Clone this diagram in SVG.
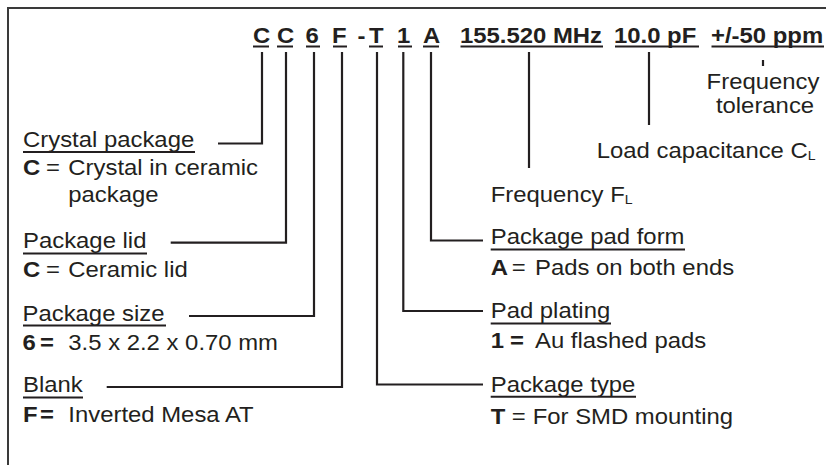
<svg xmlns="http://www.w3.org/2000/svg" width="826" height="465" viewBox="0 0 826 465">
<style>
text{font-family:"Liberation Sans",Arial,sans-serif;font-size:22px;fill:#231f20}
.b{font-weight:bold}
.s{font-size:13px}
.ln{fill:none;stroke:#231f20;stroke-width:2.2}
.ul{stroke:#231f20;stroke-width:2}
.fr{fill:none;stroke:#3a3a3a;stroke-width:2}
</style>
<rect width="826" height="465" fill="#fff"/>
<path class="fr" d="M8,465 V8 H826"/>
<g id="code">
<text class="b" transform="translate(253,42.5) scale(1.086,1)">C</text>
<text class="b" transform="translate(277,42.5) scale(1.086,1)">C</text>
<text class="b" transform="translate(305.5,42.5) scale(1.086,1)">6</text>
<text class="b" transform="translate(332,42.5) scale(1.086,1)">F</text>
<text class="b" transform="translate(357.5,42.5) scale(1.086,1)">-</text>
<text class="b" transform="translate(369,42.5) scale(1.086,1)">T</text>
<text class="b" transform="translate(397,42.5) scale(1.086,1)">1</text>
<text class="b" transform="translate(423,42.5) scale(1.086,1)">A</text>
<text class="b" transform="translate(460,42.5) scale(1.086,1)">155.520 MHz</text>
<text class="b" transform="translate(614,42.5) scale(1.086,1)">10.0 pF</text>
<text class="b" transform="translate(711,42.5) scale(1.086,1)">+/-50 ppm</text>
<g class="ul">
<line x1="253" y1="46.5" x2="269" y2="46.5"/>
<line x1="277" y1="46.5" x2="293" y2="46.5"/>
<line x1="306" y1="46.5" x2="320" y2="46.5"/>
<line x1="333" y1="46.5" x2="347" y2="46.5"/>
<line x1="369" y1="46.5" x2="383" y2="46.5"/>
<line x1="398" y1="46.5" x2="412" y2="46.5"/>
<line x1="423" y1="46.5" x2="439" y2="46.5"/>
<line x1="460.5" y1="46.5" x2="603" y2="46.5"/>
<line x1="615" y1="46.5" x2="699" y2="46.5"/>
<line x1="711.5" y1="46.5" x2="824" y2="46.5"/>
</g>
</g>
<g id="connectors">
<path class="ln" d="M262,52 V143.5 H218"/>
<path class="ln" d="M286,52 V242.7 H170.7"/>
<path class="ln" d="M314,52 V316 H189"/>
<path class="ln" d="M342,52 V387 H106.7"/>
<path class="ln" d="M377,52 V384.5 H483"/>
<path class="ln" d="M403.3,52 V311 H483"/>
<path class="ln" d="M431,52 V240.5 H483"/>
<path class="ln" d="M529,52 V168"/>
<path class="ln" d="M649,52 V125"/>
<path class="ln" d="M763,60 V66"/>
</g>
<g id="crystal-package">
<text transform="translate(23,146.7) scale(1.086,1)">Crystal package</text>
<line class="ul" x1="23" y1="152" x2="195" y2="152"/>
<text class="b" transform="translate(23,175) scale(1.086,1)">C</text>
<text transform="translate(46,175) scale(1.086,1)">=</text>
<text transform="translate(68.3,175) scale(1.086,1)">Crystal in ceramic</text>
<text transform="translate(68.3,202) scale(1.086,1)">package</text>
</g>
<g id="package-lid">
<text transform="translate(23,248.3) scale(1.086,1)">Package lid</text>
<line class="ul" x1="23" y1="253.5" x2="147" y2="253.5"/>
<text class="b" transform="translate(23,276.7) scale(1.086,1)">C</text>
<text transform="translate(46,276.7) scale(1.086,1)">=</text>
<text transform="translate(68.3,276.7) scale(1.086,1)">Ceramic lid</text>
</g>
<g id="package-size">
<text transform="translate(22.5,320.5) scale(1.086,1)">Package size</text>
<line class="ul" x1="23" y1="325.5" x2="166" y2="325.5"/>
<text class="b" transform="translate(22.5,350) scale(1.086,1)">6</text>
<text class="b" transform="translate(40,350) scale(1.086,1)">=</text>
<text transform="translate(68.3,350) scale(1.086,1)">3.5 x 2.2 x 0.70 mm</text>
</g>
<g id="blank">
<text transform="translate(23,391.7) scale(1.086,1)">Blank</text>
<line class="ul" x1="23" y1="397.5" x2="83" y2="397.5"/>
<text class="b" transform="translate(23,421.7) scale(1.086,1)">F</text>
<text class="b" transform="translate(40,421.7) scale(1.086,1)">=</text>
<text transform="translate(68.3,421.7) scale(1.086,1)">Inverted Mesa AT</text>
</g>
<g id="frequency-tolerance">
<text transform="translate(763,88.5) scale(1.086,1)" text-anchor="middle">Frequency</text>
<text transform="translate(765,113.3) scale(1.086,1)" text-anchor="middle">tolerance</text>
</g>
<g id="load-capacitance">
<text transform="translate(596.7,158.3) scale(1.086,1)">Load capacitance C<tspan class="s" dy="2">L</tspan></text>
</g>
<g id="frequency">
<text transform="translate(490.7,201.7) scale(1.086,1)">Frequency F<tspan class="s" dy="2">L</tspan></text>
</g>
<g id="package-pad-form">
<text transform="translate(490.7,243.5) scale(1.086,1)">Package pad form</text>
<line class="ul" x1="490.7" y1="249.5" x2="685" y2="249.5"/>
<text class="b" transform="translate(490.7,275) scale(1.086,1)">A</text>
<text transform="translate(511.7,275) scale(1.086,1)">=</text>
<text transform="translate(535,275) scale(1.086,1)">Pads on both ends</text>
</g>
<g id="pad-plating">
<text transform="translate(490.7,318.3) scale(1.086,1)">Pad plating</text>
<line class="ul" x1="490.7" y1="323.5" x2="611" y2="323.5"/>
<text class="b" transform="translate(490.7,348.3) scale(1.086,1)">1</text>
<text class="b" transform="translate(510,348.3) scale(1.086,1)">=</text>
<text transform="translate(535,348.3) scale(1.086,1)">Au flashed pads</text>
</g>
<g id="package-type">
<text transform="translate(490.7,391.7) scale(1.086,1)">Package type</text>
<line class="ul" x1="490.7" y1="396.7" x2="636" y2="396.7"/>
<text class="b" transform="translate(490.7,424) scale(1.086,1)">T</text>
<text transform="translate(511.7,424) scale(1.086,1)">=</text>
<text transform="translate(532.7,424) scale(1.086,1)">For SMD mounting</text>
</g>
</svg>
